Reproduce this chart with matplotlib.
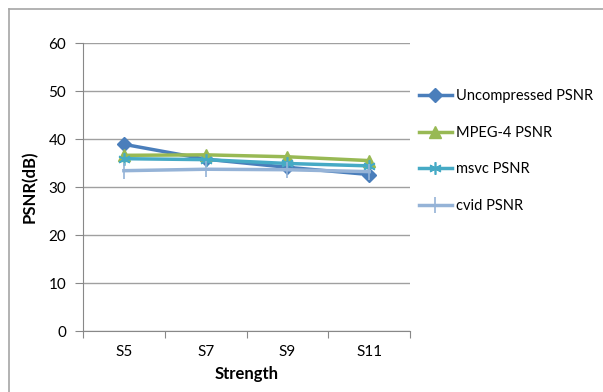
import numpy as np
import matplotlib.pyplot as plt
from matplotlib.lines import Line2D

plt.rcParams['font.family'] = ['Lato', 'DejaVu Sans']

# Data
categories = ['S5', 'S7', 'S9', 'S11']
uncompressed = [38.9, 35.8, 34.1, 32.6]
mpeg4 = [36.6, 36.7, 36.3, 35.5]
msvc = [35.9, 35.7, 34.9, 34.4]
cvid = [33.4, 33.7, 33.6, 33.2]

x = np.arange(len(categories))

fig = plt.figure(figsize=(6.03, 3.92), dpi=100)
ax = fig.add_axes([0.1376, 0.1556, 0.5425, 0.7347])

# outer chart border (left and top only visible)
fig.add_artist(Line2D([8.5 / 603, 8.5 / 603], [0, 1 - 8.5 / 392], transform=fig.transFigure, color='#a6a6a6', lw=1.2))
fig.add_artist(Line2D([8.5 / 603, 1], [1 - 8.5 / 392, 1 - 8.5 / 392], transform=fig.transFigure, color='#a6a6a6', lw=1.2))

ax.plot(x, uncompressed, color='#4a7ebb', lw=2.5, marker='D', ms=7, label='Uncompressed PSNR', zorder=3)
ax.plot(x, mpeg4, color='#98b954', lw=2.5, marker='^', ms=8, label='MPEG-4 PSNR', zorder=3)
ax.plot(x, msvc, color='#46aac5', lw=2.5, marker=(6, 2, 0), ms=9, mew=1.2, label='msvc PSNR', zorder=3)
ax.plot(x, cvid, color='#95b3d7', lw=2.5, marker='|', ms=12, mew=1.2, label='cvid PSNR', zorder=3)

ax.set_xlim(-0.5, 3.5)
ax.set_ylim(0, 60)
ax.set_yticks(np.arange(0, 61, 10))
ax.set_xticks(np.arange(-0.5, 4, 1))
ax.set_xticklabels([])
ax.set_xticks(x, minor=True)
ax.set_xticklabels(categories, minor=True)
ax.tick_params(axis='x', which='minor', length=0, pad=10, labelsize=11)
ax.tick_params(axis='x', which='major', length=5, color='#888888')
ax.tick_params(axis='y', length=6, color='#888888', labelsize=11, pad=6)

ax.grid(axis='y', color='#a0a0a0', lw=1)
for s in ['top', 'right']:
    ax.spines[s].set_visible(False)
for s in ['left', 'bottom']:
    ax.spines[s].set_color('#888888')

ax.set_xlabel('Strength', fontsize=12, fontweight='bold', labelpad=5)
ax.set_ylabel('PSNR(dB)', fontsize=12, fontweight='bold', labelpad=8)

ax.legend(loc='upper left', bbox_to_anchor=(0.995, 0.875), frameon=False, fontsize=10.5,
          handlelength=2.3, labelspacing=1.55, handletextpad=0.25, borderaxespad=0.3)

fig.savefig('out.png', dpi=100)
